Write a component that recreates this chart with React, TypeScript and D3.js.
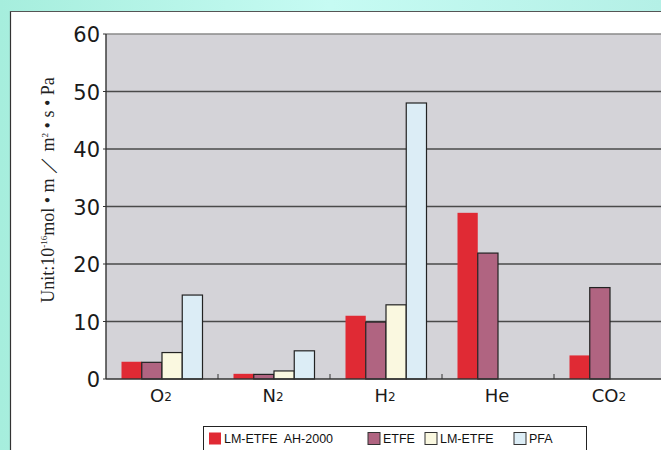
import { useEffect, useRef } from 'react'
import * as d3 from 'd3'

const gases = ['O2', 'N2', 'H2', 'He', 'CO2']
const gasLabels = [
  ['O', '2'],
  ['N', '2'],
  ['H', '2'],
  ['He', ''],
  ['CO', '2'],
]
const seriesNames = ['LM-ETFE  AH-2000', 'ETFE', 'LM-ETFE', 'PFA']
const seriesColors = ['#e02a34', '#b06481', '#faf8e0', '#dcedf6']
// one array per series, in gas order (null = no bar)
const ahValues = [3, 0.9, 11, 28.9, 4.1]
const etfeValues = [2.9, 0.8, 9.9, 21.9, 15.9]
const lmValues = [4.6, 1.4, 12.9, null, null]
const pfaValues = [14.6, 4.9, 48, null, null]
const yTicks = [0, 10, 20, 30, 40, 50, 60]

const allSeries = [ahValues, etfeValues, lmValues, pfaValues]

export default function App() {
  const svgRef = useRef<SVGSVGElement>(null)

  useEffect(() => {
    if (!svgRef.current) return
    const svg = d3.select(svgRef.current)
    svg.selectAll('*').remove()

    const width = 661
    const height = 450
    const plot = { left: 106, top: 34, bottom: 379 }
    const bandW = 112

    // background gradient
    const defs = svg.append('defs')
    const grad = defs.append('linearGradient').attr('id', 'bg').attr('x1', 0).attr('x2', 1).attr('y1', 0).attr('y2', 0)
    grad.append('stop').attr('offset', '0%').attr('stop-color', '#a6eedd')
    grad.append('stop').attr('offset', '50%').attr('stop-color', '#c6fbf3')
    grad.append('stop').attr('offset', '100%').attr('stop-color', '#b4f0e6')
    svg.append('rect').attr('width', width).attr('height', height).attr('fill', 'url(#bg)')

    // white panel
    svg.append('rect').attr('x', 10).attr('y', 11).attr('width', width).attr('height', height)
      .attr('fill', '#ffffff')
    svg.append('line').attr('x1', 10.5).attr('x2', 10.5).attr('y1', 11).attr('y2', height)
      .attr('stroke', '#333').attr('stroke-width', 1.2)
    svg.append('line').attr('x1', 10).attr('x2', width).attr('y1', 11.5).attr('y2', 11.5)
      .attr('stroke', '#555').attr('stroke-width', 1)

    const x = d3.scaleBand<string>()
      .domain(gases)
      .range([plot.left, plot.left + bandW * gases.length])
      .paddingInner(0)
    const inner = d3.scaleBand<number>()
      .domain(d3.range(seriesNames.length))
      .range([15.5, 15.5 + 81])
    const y = d3.scaleLinear().domain([0, 60]).range([plot.bottom, plot.top])

    // plot area
    svg.append('rect')
      .attr('x', plot.left).attr('y', plot.top)
      .attr('width', width - plot.left).attr('height', plot.bottom - plot.top)
      .attr('fill', '#d4d3d8')

    // gridlines
    svg.append('g').selectAll('line').data(yTicks.filter(t => t > 0)).join('line')
      .attr('x1', plot.left).attr('x2', width)
      .attr('y1', d => y(d)).attr('y2', d => y(d))
      .attr('stroke', d => (d === 60 ? '#8a8a8a' : '#4a4a4a'))
      .attr('stroke-width', 1.3)

    // bars
    allSeries.forEach((vals, si) => {
      svg.append('g').selectAll('rect')
        .data(vals.map((v, gi) => ({ v, g: gases[gi] })).filter(d => d.v !== null))
        .join('rect')
        .attr('x', d => (x(d.g) as number) + (inner(si) as number))
        .attr('width', inner.bandwidth())
        .attr('y', d => y(d.v as number))
        .attr('height', d => plot.bottom - y(d.v as number))
        .attr('fill', seriesColors[si])
        .attr('stroke', si === 0 ? 'none' : '#222')
        .attr('stroke-width', 1.2)
    })

    // axes lines
    svg.append('line').attr('x1', plot.left).attr('x2', plot.left)
      .attr('y1', plot.top).attr('y2', plot.bottom)
      .attr('stroke', '#333').attr('stroke-width', 1.4)
    svg.append('line').attr('x1', plot.left).attr('x2', width)
      .attr('y1', plot.bottom).attr('y2', plot.bottom)
      .attr('stroke', '#333').attr('stroke-width', 1.4)
    // category separator ticks
    svg.append('g').selectAll('line').data(gases.slice(1)).join('line')
      .attr('x1', d => x(d) as number).attr('x2', d => x(d) as number)
      .attr('y1', plot.bottom - 5).attr('y2', plot.bottom)
      .attr('stroke', '#333').attr('stroke-width', 1)
    // y ticks
    svg.append('g').selectAll('line').data(yTicks).join('line')
      .attr('x1', plot.left - 3).attr('x2', plot.left)
      .attr('y1', d => y(d)).attr('y2', d => y(d))
      .attr('stroke', '#333')

    // y tick labels
    svg.append('g').selectAll('text').data(yTicks).join('text')
      .attr('x', 100).attr('y', d => y(d) + 1)
      .attr('text-anchor', 'end')
      .attr('dominant-baseline', 'central')
      .attr('font-family', 'DejaVu Sans, sans-serif')
      .attr('font-size', 21)
      .attr('fill', '#1a1a1a')
      .text(d => d)

    // x labels with subscripts
    const xl = svg.append('g').selectAll('text').data(gases).join('text')
      .attr('x', d => (x(d) as number) + bandW / 2 - 1)
      .attr('y', 402)
      .attr('text-anchor', 'middle')
      .attr('font-family', 'DejaVu Sans, sans-serif')
      .attr('font-size', 18)
      .attr('fill', '#1a1a1a')
    xl.each(function (d, i) {
      const t = d3.select(this)
      t.append('tspan').text(gasLabels[i][0])
      if (gasLabels[i][1]) {
        t.append('tspan').attr('font-size', 12).attr('dy', -1).text(gasLabels[i][1])
      }
    })

    // y axis title
    const yt = svg.append('text')
      .attr('transform', `translate(54, 190) rotate(-90)`)
      .attr('text-anchor', 'middle')
      .attr('font-family', 'Liberation Serif, Times New Roman, serif')
      .attr('font-size', 18)
      .attr('fill', '#222')
      .attr('xml:space', 'preserve')
      .style('white-space', 'pre')
    yt.append('tspan').text('Unit:10')
    yt.append('tspan').attr('font-size', 9).attr('dy', -7).text('-16')
    yt.append('tspan').attr('dy', 7).text('mol • m ／ m')
    yt.append('tspan').attr('font-size', 9).attr('dy', -6).text('2')
    yt.append('tspan').attr('dy', 6).text(' • s • Pa')

    // legend
    const lg = svg.append('g')
    lg.append('rect').attr('x', 203.5).attr('y', 426.5).attr('width', 383).attr('height', 30)
      .attr('fill', '#fff').attr('stroke', '#222').attr('stroke-width', 1)
    const legendX = [209, 368, 425, 514]
    seriesNames.forEach((name, i) => {
      lg.append('rect').attr('x', legendX[i]).attr('y', 432.5).attr('width', 12).attr('height', 12)
        .attr('fill', seriesColors[i])
        .attr('stroke', i === 0 ? 'none' : '#333').attr('stroke-width', 1)
      lg.append('text').attr('x', legendX[i] + 15).attr('y', 443)
        .attr('font-family', 'Liberation Sans, Arial, sans-serif')
        .attr('font-size', 12.5)
        .attr('fill', '#111')
        .attr('xml:space', 'preserve')
        .style('white-space', 'pre')
        .text(name)
    })
  }, [])

  return (
    <svg
      ref={svgRef}
      width={661}
      height={450}
      style={{ position: 'absolute', left: 0, top: 0 }}
    />
  )
}
